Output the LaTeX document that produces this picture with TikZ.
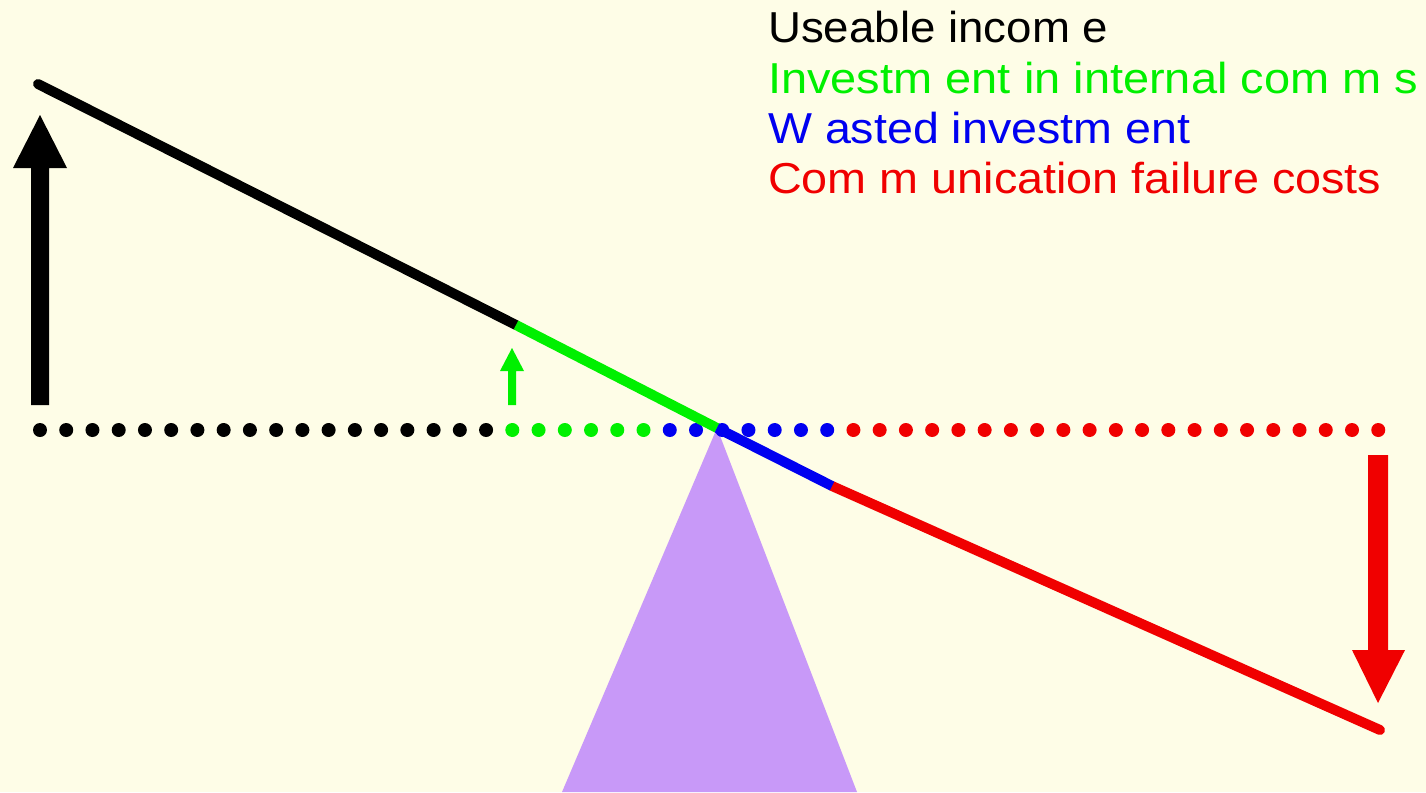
\documentclass[tikz,border=0pt]{standalone}
\usepackage{fontspec}
\setmainfont{Liberation Sans}
\usepackage{graphicx}
\definecolor{bgc}{HTML}{FEFDE7}
\definecolor{grc}{HTML}{00F000}
\definecolor{blc}{HTML}{0000F0}
\definecolor{rdc}{HTML}{F00000}
\definecolor{puc}{HTML}{C899F8}
\tikzset{
  beam/.style={line width=10pt},
  dotc/.style={fill=#1, draw=none},
  legend/.style={anchor=base west, inner sep=0pt, text=#1,
    font=\fontsize{43.3}{50}\selectfont},
  arrowshape/.style={fill=#1, draw=none}
}
\begin{document}
\begin{tikzpicture}[x=1pt,y=-1pt]
\useasboundingbox (0,0) rectangle (1426,792);
\fill[bgc] (0,0) rectangle (1426,792);
% fulcrum
\fill[puc] (717,428) -- (857,792) -- (562,792) -- cycle;
% dotted level line
\foreach \i in {0,...,51}{
  \pgfmathsetmacro\xx{40+\i*26.24}
  \ifnum\i<18 \def\dc{black}\else
   \ifnum\i<24 \def\dc{grc}\else
    \ifnum\i<31 \def\dc{blc}\else \def\dc{rdc}\fi\fi\fi
  \fill[dotc=\dc] (\xx,430) circle (7);
}
% beam points
\coordinate (b0) at (38,84);
\coordinate (b1) at (516,325);
\coordinate (piv) at (717,428);
\coordinate (b3) at (832,486);
\coordinate (b4) at (1380,730);
\draw[beam, line cap=round, black] (b0) -- (b1);
\draw[beam, line cap=round, rdc] (b3) -- (b4);
\draw[beam, line cap=butt, grc] (b1) -- (piv);
\draw[beam, line cap=butt, blc] (piv) -- (b3);
% black arrow
\fill[arrowshape=black] (31,405) -- (31,168) -- (13,168) -- (40,115) -- (67,168) -- (49,168) -- (49,405) -- cycle;
% green arrow
\fill[arrowshape=grc] (508,405) -- (508,371) -- (500,371) -- (512,348) -- (524,371) -- (516,371) -- (516,405) -- cycle;
% red arrow
\fill[arrowshape=rdc] (1368,455) -- (1368,650) -- (1352,650) -- (1378,703) -- (1405,650) -- (1388,650) -- (1388,455) -- cycle;
% legend
\node[legend=black] (l1) at (768,43) {\resizebox{340pt}{\height}{Useable incom e}};
\node[legend=grc] (l2) at (768,93) {\resizebox{650pt}{\height}{Investm ent in internal com m s}};
\node[legend=blc] (l3) at (768,143) {\resizebox{422pt}{\height}{W asted investm ent}};
\node[legend=rdc] (l4) at (768,193) {\resizebox{613pt}{\height}{Com m unication failure costs}};
\end{tikzpicture}
\end{document}
